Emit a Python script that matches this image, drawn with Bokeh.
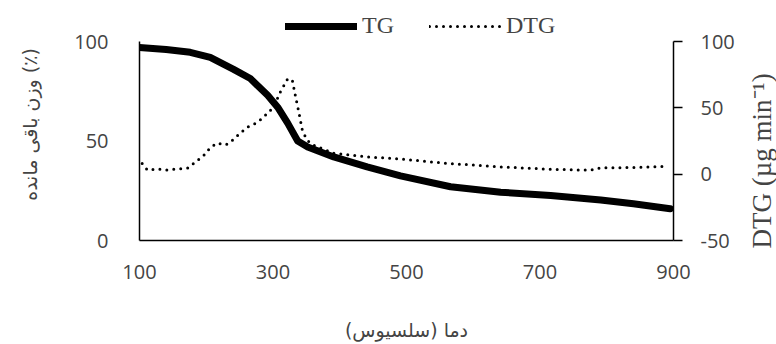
from bokeh.plotting import figure
from bokeh.models import Range1d, LinearAxis, FixedTicker, Legend, LegendItem, Title
from bokeh.layouts import row
from bokeh.embed import file_html
from bokeh.resources import INLINE

# Data
tg_temp = [100, 140, 176, 206, 241, 266, 292, 307, 322, 337, 352, 391, 441, 491,
           566, 641, 716, 791, 840, 895]
tg_mass = [97, 96, 94.6, 92, 86, 81.4, 73, 67, 59, 50, 47, 42, 37, 32.5,
           27, 24.3, 22.6, 20.4, 18.5, 16]

dtg_temp = [104, 112, 127, 142, 157, 172, 181, 196, 206, 216, 229, 236, 251, 262,
            277, 292, 301, 311, 322, 329, 334, 339, 344, 351, 361, 391, 441, 491,
            541, 566, 641, 716, 776, 791, 840, 891]
dtg_rate = [8, 3, 4, 3, 4, 4.5, 8, 14, 20, 23.5, 22, 24, 31, 35.6,
            39, 46, 50.6, 62, 72, 70.7, 58, 46, 33, 25.6, 21.8, 15.8, 13, 11.5,
            9, 8, 5.5, 3.7, 3, 4.8, 5, 6]

x_ticks = [100, 300, 500, 700, 900]
left_ticks = [0, 50, 100]
right_ticks = [-50, 0, 50, 100]

x_title = "دما (سلسیوس)"
left_title = "وزن باقی مانده (٪)"
right_title = "DTG (µg min⁻¹)"

# frame extends above the axes' top value to leave room for the legend
p = figure(width=744, height=344, output_backend="svg", toolbar_location=None,
           x_range=Range1d(100, 900), y_range=Range1d(0, 116.6),
           min_border_left=139, min_border_right=71, min_border_top=8,
           min_border_bottom=104)
p.extra_y_ranges = {"dtg": Range1d(-50, 124.9)}
p.xgrid.visible = False
p.ygrid.visible = False
p.outline_line_color = None
p.background_fill_color = "white"
p.border_fill_color = "white"

tick_font = "Open Sans"
tick_size = "20px"

# x axis
xa = p.xaxis[0]
xa.ticker = FixedTicker(ticks=x_ticks)
xa.major_tick_line_color = None
xa.minor_tick_line_color = None
xa.axis_line_color = "black"
xa.axis_line_width = 1.5
xa.major_label_text_font = tick_font
xa.major_label_text_font_size = tick_size
xa.major_label_standoff = 18
xa.axis_label = x_title
xa.axis_label_text_font = "DejaVu Sans"
xa.axis_label_text_font_size = "19px"
xa.axis_label_text_font_style = "normal"
xa.axis_label_standoff = 37

# left axis
ya = p.yaxis[0]
ya.ticker = FixedTicker(ticks=left_ticks)
ya.bounds = (0, 100)
ya.major_tick_line_color = None
ya.minor_tick_line_color = None
ya.axis_line_color = "black"
ya.axis_line_width = 1.5
ya.major_label_text_font = tick_font
ya.major_label_text_font_size = tick_size
ya.major_label_standoff = 25
ya.axis_label = left_title
ya.axis_label_text_font = "DejaVu Sans"
ya.axis_label_text_font_size = "19px"
ya.axis_label_text_font_style = "normal"
ya.axis_label_standoff = 30

# right axis
ra = LinearAxis(y_range_name="dtg", ticker=FixedTicker(ticks=right_ticks),
                bounds=(-50, 100))
ra.major_tick_out = 9
ra.major_tick_in = 0
ra.major_tick_line_width = 1.5
ra.minor_tick_line_color = None
ra.axis_line_width = 1.5
ra.major_label_text_font = tick_font
ra.major_label_text_font_size = tick_size
ra.major_label_standoff = 18
ra.major_label_overrides = {-50: "-50"}
p.add_layout(ra, "right")

r_tg = p.line(tg_temp, tg_mass, line_color="black", line_width=7, line_cap="round",
              line_join="round")
r_dtg = p.line(dtg_temp, dtg_rate, y_range_name="dtg", line_color="black",
               line_width=3, line_dash="0 7", line_cap="round")

legend = Legend(items=[LegendItem(label="TG", renderers=[r_tg]),
                       LegendItem(label="DTG", renderers=[r_dtg])],
                orientation="horizontal", location=(146, 201),
                glyph_width=72, glyph_height=20, label_standoff=5, spacing=35,
                border_line_color=None, background_fill_alpha=0,
                label_text_font="Liberation Serif", label_text_font_size="24px",
                padding=0, margin=0)
p.add_layout(legend)

# narrow companion figure that carries the right-hand title (reads bottom-to-top)
p2 = figure(width=32, height=344, output_backend="svg", toolbar_location=None,
            x_axis_location=None, y_axis_location=None,
            min_border_left=0, min_border_right=0, min_border_top=8,
            min_border_bottom=104)
p2.xgrid.visible = False
p2.ygrid.visible = False
p2.outline_line_color = None
p2.border_fill_color = "white"
t2 = Title(text=right_title, align="left", text_font="Liberation Serif",
           text_font_size="27px", text_font_style="normal", standoff=0, offset=-8)
p2.add_layout(t2, "left")

open("out.html", "w").write(file_html(row(p, p2, spacing=0), INLINE))
